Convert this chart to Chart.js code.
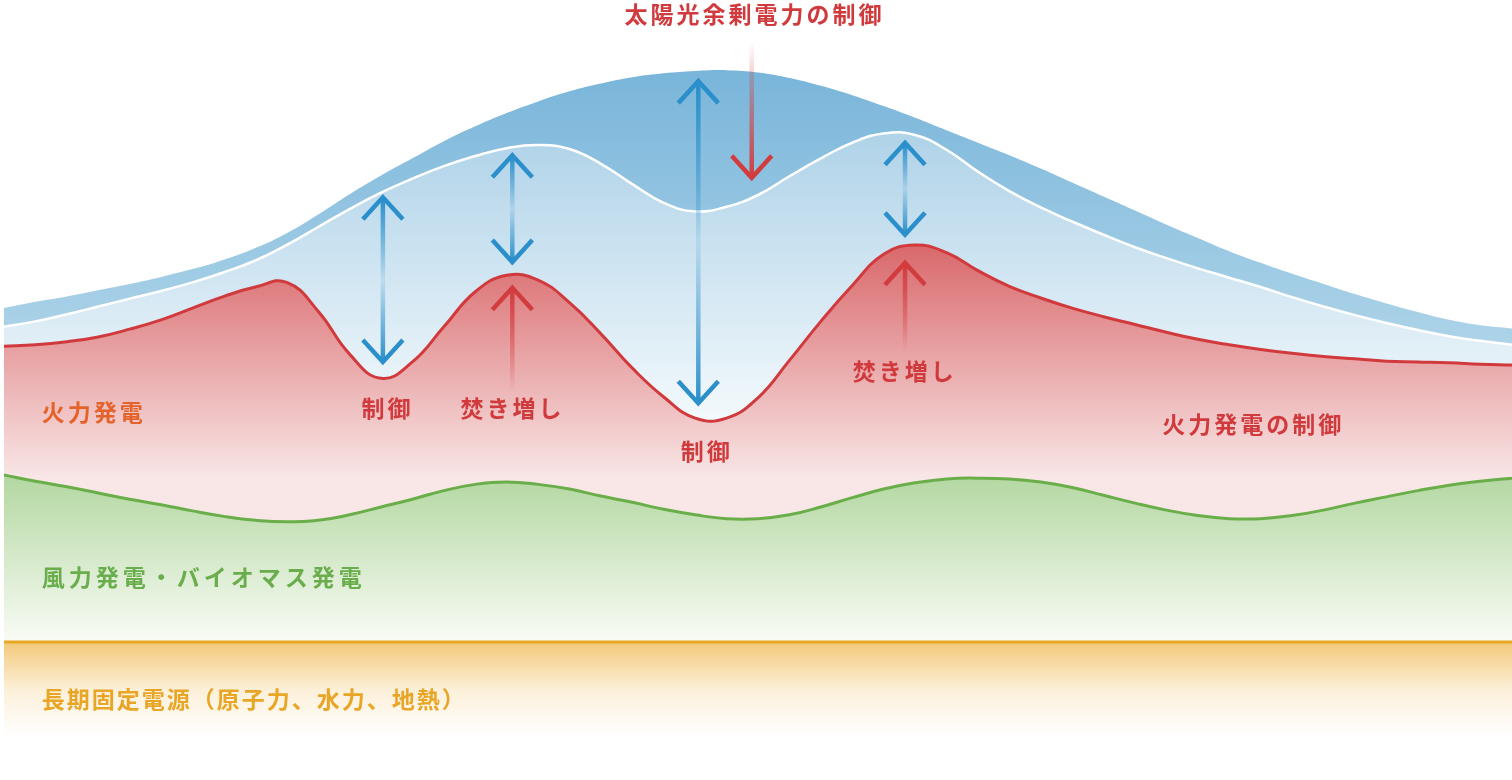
<!DOCTYPE html>
<html lang="ja">
<head>
<meta charset="utf-8">
<title>電力需給のイメージ</title>
<script src="https://cdn.jsdelivr.net/npm/chart.js@4.4.0/dist/chart.umd.min.js"></script>
<style>
  html, body { margin: 0; background: #fff; }
  #wrap { width: 1512px; height: 780px; position: relative; }
</style>
</head>
<body>
<div id="wrap"><canvas id="grafico"></canvas></div>
<script>
// 時刻（30分ごと）
const hours = [0, 0.5, 1, 1.5, 2, 2.5, 3, 3.5, 4, 4.5, 5, 5.5, 6, 6.5, 7, 7.5, 8, 8.5, 9, 9.5,
  10, 10.5, 11, 11.5, 12, 12.5, 13, 13.5, 14, 14.5, 15, 15.5, 16, 16.5, 17, 17.5, 18, 18.5, 19, 19.5,
  20, 20.5, 21, 21.5, 22, 22.5, 23, 23.5, 24];

// 各電源の積み上げ上端（相対値）
const baseLoad = [17.7, 17.7, 17.7, 17.7, 17.7, 17.7, 17.7, 17.7, 17.7, 17.7, 17.7, 17.7, 17.7, 17.7, 17.7, 17.7, 17.7,
  17.7, 17.7, 17.7, 17.7, 17.7, 17.7, 17.7, 17.7, 17.7, 17.7, 17.7, 17.7, 17.7, 17.7, 17.7, 17.7, 17.7, 17.7, 17.7,
  17.7, 17.7, 17.7, 17.7, 17.7, 17.7, 17.7, 17.7, 17.7, 17.7, 17.7, 17.7, 17.7];
const windBio = [39.1, 38.3, 37.6, 36.8, 36.0, 35.3, 34.5, 33.8, 33.3, 33.1, 33.3, 34.0, 35.0, 36.0, 37.1, 37.9, 38.2,
  37.9, 37.3, 36.4, 35.6, 34.7, 34.0, 33.5, 33.5, 34.0, 35.0, 36.2, 37.3, 38.1, 38.6, 38.7, 38.6, 38.2, 37.5, 36.5,
  35.5, 34.6, 33.9, 33.5, 33.5, 33.9, 34.6, 35.5, 36.3, 37.1, 37.8, 38.3, 38.7];
const thermal = [55.6, 55.8, 56.2, 56.8, 57.8, 59.0, 60.5, 62.0, 63.2, 63.8, 60.1, 54.6, 51.5, 53.6, 58.1, 62.6, 64.7,
  64.1, 61.2, 57.2, 52.8, 49.1, 46.4, 46.4, 49.0, 53.8, 58.8, 63.4, 67.4, 68.6, 67.6, 65.3, 63.3, 61.8, 60.5, 59.4,
  58.4, 57.4, 56.5, 55.8, 55.2, 54.7, 54.3, 54.0, 53.7, 53.6, 53.5, 53.3, 53.2];
const demand = [58.1, 58.8, 59.7, 60.7, 61.7, 62.7, 63.8, 65.1, 66.6, 68.6, 70.9, 73.2, 75.3, 77.1, 78.7, 80.0, 81.0,
  81.4, 80.9, 79.0, 76.4, 74.0, 72.9, 73.5, 75.0, 77.4, 79.7, 81.7, 82.9, 82.7, 80.8, 78.0, 75.5, 73.4, 71.6, 69.9,
  68.3, 66.9, 65.6, 64.4, 63.2, 61.9, 60.7, 59.6, 58.6, 57.7, 56.9, 56.3, 55.8];
const solar = [60.5, 61.3, 62.0, 62.8, 63.6, 64.5, 65.5, 66.7, 68.2, 70.1, 72.5, 75.1, 77.5, 79.7, 81.9, 83.8, 85.5,
  87.0, 88.3, 89.3, 90.1, 90.6, 90.9, 91.0, 90.7, 90.0, 89.0, 87.8, 86.4, 84.9, 83.3, 81.7, 80.1, 78.4, 76.6, 74.8,
  73.0, 71.2, 69.5, 67.8, 66.3, 64.9, 63.6, 62.3, 61.1, 60.0, 59.0, 58.3, 57.9];

// 注記の文字と矢印（時刻・相対値で指定）
const notes = [
  { text: '太陽光余剰電力の制御', x: 11.92, y: 98.2, color: '#d13a3d', align: 'center' },
  { text: '火力発電', x: 0.6, y: 47.1, color: '#e3632b', align: 'left' },
  { text: '制御', x: 6.08, y: 47.7, color: '#d13a3d', align: 'center' },
  { text: '焚き増し', x: 8.07, y: 47.7, color: '#d13a3d', align: 'center' },
  { text: '制御', x: 11.16, y: 42.2, color: '#d13a3d', align: 'center' },
  { text: '焚き増し', x: 14.31, y: 52.4, color: '#d13a3d', align: 'center' },
  { text: '火力発電の制御', x: 19.86, y: 45.6, color: '#d13a3d', align: 'center' },
  { text: '風力発電・バイオマス発電', x: 0.6, y: 26.0, color: '#6aad4c', align: 'left', spacing: 4 },
  { text: '長期固定電源（原子力、水力、地熱）', x: 0.6, y: 10.3, color: '#e9a626', align: 'left', spacing: 2 }
];
const arrows = [
  { x: 6.03, from: 74.7, to: 53.6, kind: 'both' },
  { x: 8.09, from: 80.1, to: 66.4, kind: 'both' },
  { x: 11.05, from: 89.6, to: 48.3, kind: 'both' },
  { x: 14.34, from: 81.7, to: 69.9, kind: 'both' },
  { x: 11.9, from: 94.6, to: 77.2, kind: 'red' },
  { x: 8.09, from: 49.7, to: 63.1, kind: 'red' },
  { x: 14.34, from: 54.9, to: 66.3, kind: 'red' }
];

function pts(values) {
  return hours.map((h, i) => ({ x: h, y: values[i] }));
}

function vGrad(chart, stops) {
  const { ctx, chartArea, scales } = chart;
  if (!chartArea) return stops[0][1];
  const y0 = scales.y.getPixelForValue(stops[0][0]);
  const y1 = scales.y.getPixelForValue(stops[stops.length - 1][0]);
  const g = ctx.createLinearGradient(0, y0, 0, y1);
  stops.forEach(([v, c]) => g.addColorStop((scales.y.getPixelForValue(v) - y0) / (y1 - y0), c));
  return g;
}

const BLUE = [42, 143, 202];
const RED = [210, 60, 62];
const rgba = (c, a) => `rgba(${c[0]},${c[1]},${c[2]},${a})`;

function drawHead(ctx, x, y, dir) {
  // dir: -1 = 上向き, 1 = 下向き
  ctx.beginPath();
  ctx.moveTo(x - 20, y - dir * 22);
  ctx.lineTo(x, y);
  ctx.lineTo(x + 20, y - dir * 22);
  ctx.stroke();
}

const notesPlugin = {
  id: 'notes',
  afterDatasetsDraw(chart) {
    const { ctx, scales } = chart;
    ctx.save();
    ctx.lineWidth = 4.5;
    ctx.lineCap = 'butt';
    ctx.lineJoin = 'miter';
    arrows.forEach(a => {
      const x = scales.x.getPixelForValue(a.x);
      const y1 = scales.y.getPixelForValue(a.from);
      const y2 = scales.y.getPixelForValue(a.to);
      const col = a.kind === 'both' ? BLUE : RED;
      const g = ctx.createLinearGradient(0, y1, 0, y2);
      if (a.kind === 'both') {
        g.addColorStop(0, rgba(col, 1));
        g.addColorStop(0.5, rgba(col, 0.12));
        g.addColorStop(1, rgba(col, 1));
      } else {
        g.addColorStop(0, rgba(col, 0));
        g.addColorStop(1, rgba(col, 1));
      }
      ctx.strokeStyle = g;
      ctx.beginPath();
      ctx.moveTo(x, y1);
      ctx.lineTo(x, y2);
      ctx.stroke();
      ctx.strokeStyle = rgba(col, 1);
      const dir = y2 > y1 ? 1 : -1;
      drawHead(ctx, x, y2, dir);
      if (a.kind === 'both') drawHead(ctx, x, y1, -dir);
    });

    ctx.textBaseline = 'middle';
    ctx.font = 'bold 23px "Noto Sans CJK JP", "Noto Sans", sans-serif';
    notes.forEach(n => {
      const sp = n.spacing === undefined ? 3 : n.spacing;
      ctx.letterSpacing = sp + 'px';
      ctx.fillStyle = n.color;
      let x = scales.x.getPixelForValue(n.x);
      if (n.align === 'center') x -= (ctx.measureText(n.text).width - sp) / 2;
      ctx.textAlign = 'left';
      ctx.fillText(n.text, x, scales.y.getPixelForValue(n.y));
    });
    ctx.restore();
  }
};

const lineBase = { pointRadius: 0, tension: 0.45 };

new Chart(document.getElementById('grafico'), {
  type: 'line',
  data: {
    datasets: [
      Object.assign({}, lineBase, {
        label: '長期固定電源', data: pts(baseLoad), fill: 'start',
        borderColor: '#e8a823', borderWidth: 3,
        backgroundColor: c => vGrad(c.chart, [[17.5, '#f3ca7c'], [11.5, '#fcf0da'], [5.5, '#ffffff']])
      }),
      Object.assign({}, lineBase, {
        label: '風力発電・バイオマス発電', data: pts(windBio), fill: '-1',
        borderColor: '#6aae4a', borderWidth: 3,
        backgroundColor: c => vGrad(c.chart, [[38.7, '#b4d8a2'], [18, '#f8fbf4']])
      }),
      Object.assign({}, lineBase, {
        label: '火力発電', data: pts(thermal), fill: '-1',
        borderColor: '#d13a3d', borderWidth: 3,
        backgroundColor: c => vGrad(c.chart, [[68.6, '#d9686b'], [38.5, '#f9e7e7']])
      }),
      Object.assign({}, lineBase, {
        label: '需要', data: pts(demand), fill: '-1',
        borderColor: '#ffffff', borderWidth: 2.5,
        backgroundColor: c => vGrad(c.chart, [[81.4, '#b2d4e9'], [46.2, '#f3f9fc']])
      }),
      Object.assign({}, lineBase, {
        label: '太陽光', data: pts(solar), fill: '-1',
        borderColor: 'rgba(0,0,0,0)', borderWidth: 0,
        backgroundColor: c => vGrad(c.chart, [[91, '#79b5da'], [56.4, '#acd3e8']])
      })
    ]
  },
  options: {
    responsive: true,
    maintainAspectRatio: false,
    animation: false,
    layout: { padding: { left: 4, right: 0, top: 0, bottom: 0 } },
    scales: {
      x: { type: 'linear', min: 0, max: 24, display: false },
      y: { min: 0, max: 100, display: false }
    },
    plugins: {
      legend: { display: false },
      tooltip: { enabled: false }
    }
  },
  plugins: [notesPlugin]
});
</script>
</body>
</html>
